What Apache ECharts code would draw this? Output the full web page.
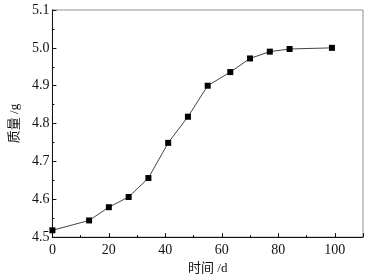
<!DOCTYPE html>
<html><head><meta charset="utf-8">
<script src="https://cdn.jsdelivr.net/npm/echarts@6/dist/echarts.min.js"></script>
<style>html,body{margin:0;padding:0;background:#fff}#c{width:382px;height:280px}</style>
</head><body><div id="c"></div>
<script>
const days = [0, 13, 20, 27, 34, 41, 48, 55, 63, 70, 77, 84, 99];
const mass = [4.518, 4.544, 4.579, 4.606, 4.656, 4.749, 4.818, 4.900, 4.936, 4.972, 4.990, 4.997, 5.000];
const xName = '时间 /d';
const yName = '质量 /g';
const font = '"Liberation Serif", "Noto Sans CJK SC", serif';
const chart = echarts.init(document.getElementById('c'));
chart.setOption({
  animation: false,
  grid: {left: 48, right: 19, top: 10, bottom: 36, show: true, borderColor: '#222', borderWidth: 1, borderType: 'dotted', backgroundColor: 'transparent'},
  xAxis: {
    type: 'value', min: 0, max: 110, interval: 20,
    name: xName, nameLocation: 'middle', nameGap: 24,
    nameTextStyle: {fontFamily: font, fontSize: 13, color: '#111'},
    axisLine: {lineStyle: {color: '#111', width: 1}},
    axisTick: {inside: true, length: 4, lineStyle: {color: '#111'}},
    minorTick: {show: true, splitNumber: 2, length: 2, lineStyle: {color: '#111'}},
    splitLine: {show: false},
    axisLabel: {fontFamily: font, fontSize: 14, color: '#111', margin: 6, showMaxLabel: false}
  },
  yAxis: {
    type: 'value', min: 4.5, max: 5.1, interval: 0.1,
    name: yName, nameLocation: 'middle', nameGap: 27,
    nameTextStyle: {fontFamily: font, fontSize: 13, color: '#111'},
    axisLine: {lineStyle: {color: '#111', width: 1}},
    axisTick: {inside: true, length: 4, lineStyle: {color: '#111'}},
    minorTick: {show: true, splitNumber: 2, length: 2, lineStyle: {color: '#111'}},
    splitLine: {show: false},
    axisLabel: {fontFamily: font, fontSize: 14, color: '#111', margin: 3, formatter: v => v.toFixed(1)}
  },
  series: [{
    type: 'line',
    data: days.map((d, i) => [d, mass[i]]),
    symbol: 'rect', symbolSize: 6,
    itemStyle: {color: '#000'},
    lineStyle: {color: '#444', width: 1}
  }]
});
</script></body></html>
